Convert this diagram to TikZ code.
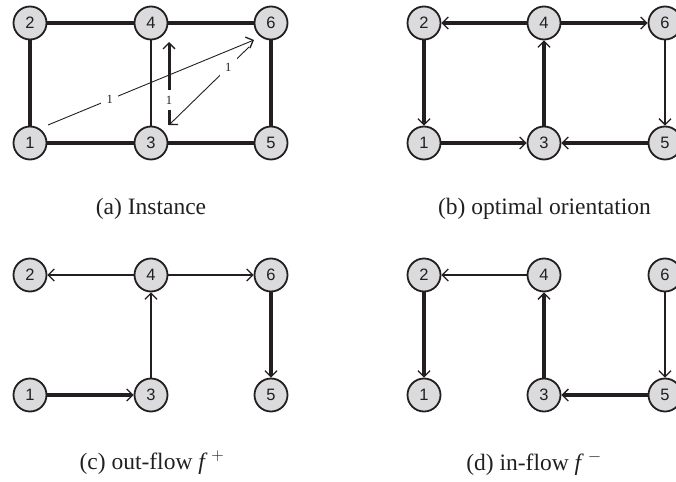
\documentclass[tikz,border=0pt]{standalone}
\usepackage{fontspec}
\setmainfont{Liberation Serif}
\newfontfamily\nodefont{Liberation Sans}
\usetikzlibrary{arrows.meta}
\definecolor{nfill}{RGB}{219,219,221}
\definecolor{ink}{RGB}{35,31,32}
\tikzset{
 vert/.style={circle, draw=ink, line width=1.8pt, fill=nfill, minimum size=33pt, inner sep=0pt, font=\nodefont\fontsize{16.5}{16.5}\selectfont, text=ink},
 thk/.style={draw=ink, line width=3.4pt},
 thn/.style={draw=ink, line width=1.6pt},
 hair/.style={draw=ink, line width=0.9pt},
 tip/.style={-{Straight Barb[line width=1.3pt,length=6pt,width=12pt]}},
 lab/.style={fill=white, inner sep=5.5pt, font=\fontsize{12.5}{12.5}\selectfont, text=ink},
 captxt/.style={font=\fontsize{23.5}{28}\selectfont, text=ink, inner sep=0pt}
}
\begin{document}
\begin{tikzpicture}[x=1pt,y=-1pt]
\useasboundingbox (0,0) rectangle (676,481);
\clip (0,0) rectangle (676,481);
% panel (a)
\node[vert] (a2) at (30,23) {2};
\node[vert] (a4) at (151,23) {4};
\node[vert] (a6) at (271,23) {6};
\node[vert] (a1) at (30,143) {1};
\node[vert] (a3) at (151,143) {3};
\node[vert] (a5) at (271,143) {5};
\draw[thk] (a2) -- (a4);
\draw[thk] (a4) -- (a6);
\draw[thk] (a2) -- (a1);
\draw[thk] (a1) -- (a3);
\draw[thk] (a3) -- (a5);
\draw[thk] (a6) -- (a5);
\draw[thn] (a4) -- (a3);
\coordinate (s1) at (48,125);
\coordinate (e1) at (254,40);
\coordinate (s2) at (249,47);
\coordinate (q) at (169,125);
\coordinate (e3) at (169,42);
\draw[hair, tip] (s1) -- node[lab, pos=0.3] (l1) {1} (e1);
\draw[hair, tip] (s2) -- node[lab, pos=0.26] (l2) {1} (q);
\draw[draw=ink, line width=3pt, tip] (q) -- node[lab, pos=0.3] (l3) {1} (e3);
\node[captxt] (ca) at (151,209) {(a) Instance};
% panel (b)
\node[vert] (b2) at (424,23) {2};
\node[vert] (b4) at (544,23) {4};
\node[vert] (b6) at (665,23) {6};
\node[vert] (b1) at (424,143) {1};
\node[vert] (b3) at (544,143) {3};
\node[vert] (b5) at (665,143) {5};
\draw[thk, tip] (b4) -- (b2);
\draw[thk, tip] (b4) -- (b6);
\draw[thk, tip] (b2) -- (b1);
\draw[thk, tip] (b1) -- (b3);
\draw[thk, tip] (b5) -- (b3);
\draw[thk, tip] (b3) -- (b4);
\draw[draw=ink, line width=2.4pt, tip] (b6) -- (b5);
\node[captxt] (cb) at (544.5,209) {(b) optimal orientation};
% panel (c)
\node[vert] (c2) at (30,275) {2};
\node[vert] (c4) at (151,275) {4};
\node[vert] (c6) at (271,275) {6};
\node[vert] (c1) at (30,395) {1};
\node[vert] (c3) at (151,395) {3};
\node[vert] (c5) at (271,395) {5};
\draw[thn, tip] (c4) -- (c2);
\draw[thn, tip] (c4) -- (c6);
\draw[thn, tip] (c3) -- (c4);
\draw[thk, tip] (c1) -- (c3);
\draw[thk, tip] (c6) -- (c5);
\node[captxt] (cc) at (152,463) {(c) out-flow \textit{f}\,$^{+}$};
% panel (d)
\node[vert] (d2) at (424,275) {2};
\node[vert] (d4) at (544,275) {4};
\node[vert] (d6) at (665,275) {6};
\node[vert] (d1) at (424,395) {1};
\node[vert] (d3) at (544,395) {3};
\node[vert] (d5) at (665,395) {5};
\draw[thn, tip] (d4) -- (d2);
\draw[thk, tip] (d2) -- (d1);
\draw[thk, tip] (d3) -- (d4);
\draw[thk, tip] (d5) -- (d3);
\draw[thn, tip] (d6) -- (d5);
\node[captxt] (cd) at (534,463) {(d) in-flow \textit{f}\,$^{-}$};
\end{tikzpicture}
\end{document}
